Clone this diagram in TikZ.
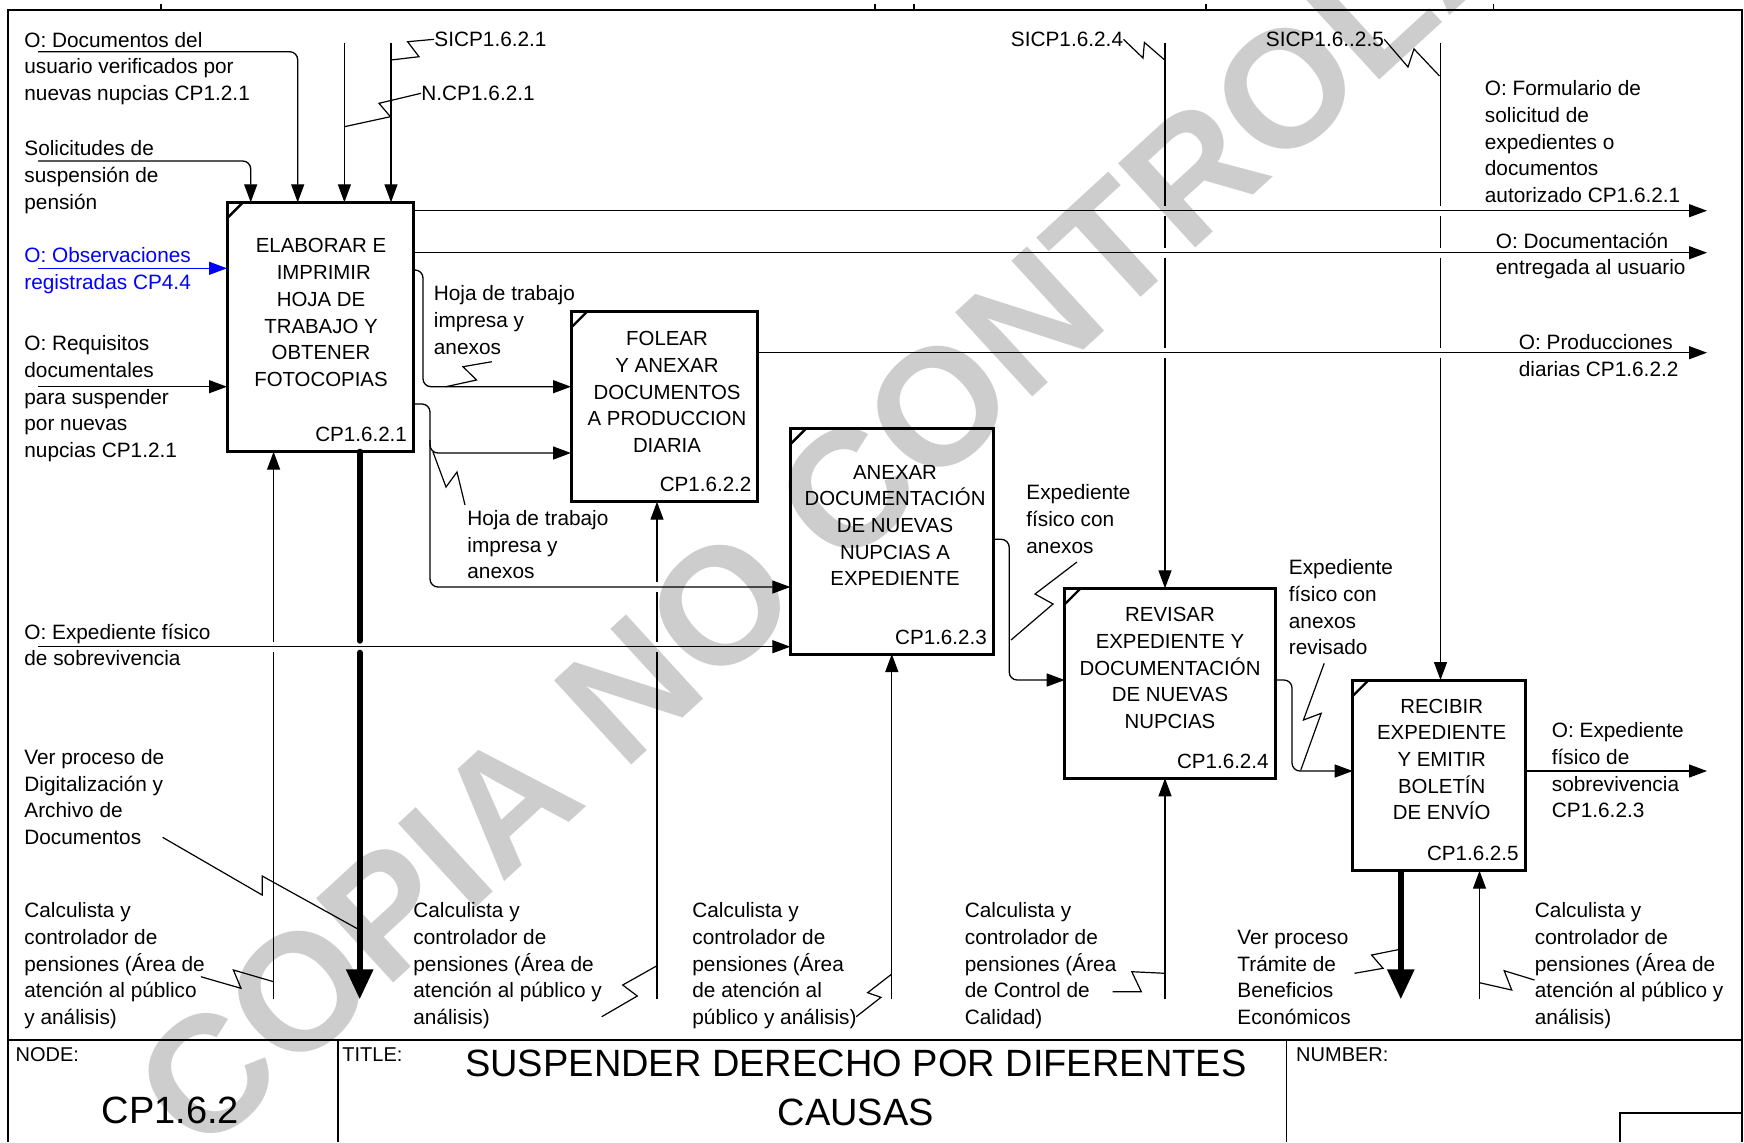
\documentclass[tikz,border=0pt]{standalone}
\usepackage{fontspec}
\setmainfont{Liberation Sans}
\usetikzlibrary{arrows.meta,calc}
\newcommand\lstrut{\rule{0pt}{7.6pt}}
\definecolor{wm}{RGB}{205,205,205}
\definecolor{obsblue}{RGB}{0,0,255}
\begin{document}
\begin{tikzpicture}[x=0.5pt,y=-0.5pt,
  conn/.style={line width=0.65pt},
  tip/.style={-{Triangle[length=9pt,width=6.5pt]}},
  bigtip/.style={line width=3pt,-{Triangle[length=15pt,width=13pt]}},
  thickseg/.style={line width=3pt, line cap=round},
  zig/.style={line width=0.6pt},
  proc/.style={draw, line width=1.5pt, anchor=north west, inner sep=0pt, outer sep=0pt},
  lbl/.style={anchor=north west, inner sep=0pt, align=left, font=\fontsize{10.4}{13.3}\selectfont},
  slbl/.style={anchor=west, inner sep=0pt, font=\fontsize{10.4}{13.3}\selectfont},
  btxt/.style={anchor=north, inner sep=0pt, align=center, font=\fontsize{10.2}{13.35}\selectfont},
  code/.style={anchor=east, inner sep=0pt, font=\fontsize{10.3}{12}\selectfont},
  frame/.style={line width=0.9pt},
]
\useasboundingbox (0,0) rectangle (1744,1142);
\fill[white] (0,0) rectangle (1744,1142);

% watermark
\node[rotate=42.5, text=wm, font=\fontsize{83}{83}\selectfont\bfseries, inner sep=0pt] (wmark) at (918,425) {COPIA NO CONTROLADA};

% frame
\draw[frame] (7.7,1142) -- (7.7,10) -- (1741.7,10) -- (1741.7,1142);
\foreach \t in {161,875,913.6,1206,1493.5} \draw[frame] (\t,4) -- (\t,10);
\draw[frame] (7.7,1040) -- (1741.7,1040);
\draw[frame] (338,1040) -- (338,1142);
\draw[frame] (1286.4,1040) -- (1286.4,1142);
\draw[frame] (1619.7,1142) -- (1619.7,1113.3) -- (1741.7,1113.3);

% title block text
\node[anchor=west, inner sep=0pt, font=\fontsize{10}{12}\selectfont] (tNode) at (15.3,1055) {NODE:};
\node[anchor=west, inner sep=0pt, font=\fontsize{10}{12}\selectfont] (tTitle) at (342,1055) {TITLE:};
\node[anchor=west, inner sep=0pt, font=\fontsize{10}{12}\selectfont] (tNum) at (1295.8,1055) {NUMBER:};
\node[anchor=center, inner sep=0pt, font=\fontsize{19}{22}\selectfont] (tNodeId) at (170.3,1110) {CP1.6.2};
\node[anchor=north, inner sep=0pt, align=center, font=\fontsize{19}{24.5}\selectfont] (tTitleTxt) at (855.8,1049.3) {SUSPENDER DERECHO POR DIFERENTES\\CAUSAS};

% boxes
\node[proc, minimum width=93.15pt, minimum height=124.7pt] (b1) at (227,202.3) {};
\node[proc, minimum width=93.4pt, minimum height=95pt] (b2) at (571,311.7) {};
\node[proc, minimum width=101.45pt, minimum height=112.85pt] (b3) at (790.3,428.3) {};
\node[proc, minimum width=105.15pt, minimum height=95pt] (b4) at (1064.7,588.3) {};
\node[proc, minimum width=86.15pt, minimum height=95.35pt] (b5) at (1352.7,680) {};
\foreach \b in {b1,b2,b3,b4,b5}
  \draw[line width=1.2pt] ([yshift=-8pt]\b.north west) -- ([xshift=8pt]\b.north west);

\node[btxt] (b1t) at (321,237.3) {\lstrut ELABORAR E\\\ IMPRIMIR\\HOJA DE\\TRABAJO Y\\OBTENER\\FOTOCOPIAS};
\node[btxt] (b2t) at (667,330) {\lstrut FOLEAR\\Y ANEXAR\\DOCUMENTOS\\A PRODUCCION\\DIARIA};
\node[btxt] (b3t) at (895,463.5) {\lstrut ANEXAR\\DOCUMENTACIÓN\\DE NUEVAS\\NUPCIAS A\\EXPEDIENTE};
\node[btxt] (b4t) at (1170,606) {\lstrut REVISAR\\EXPEDIENTE Y\\DOCUMENTACIÓN\\DE NUEVAS\\NUPCIAS};
\node[btxt] (b5t) at (1441.7,697.5) {\lstrut RECIBIR\\EXPEDIENTE\\Y EMITIR\\BOLETÍN\\DE ENVÍO};
\node[code] (b1c) at ([xshift=-3pt,yshift=8.5pt]b1.south east) {CP1.6.2.1};
\node[code] (b2c) at ([xshift=-3pt,yshift=8.5pt]b2.south east) {CP1.6.2.2};
\node[code] (b3c) at ([xshift=-3pt,yshift=8.5pt]b3.south east) {CP1.6.2.3};
\node[code] (b4c) at ([xshift=-3pt,yshift=8.5pt]b4.south east) {CP1.6.2.4};
\node[code] (b5c) at ([xshift=-3pt,yshift=8.5pt]b5.south east) {CP1.6.2.5};

% coordinates
\coordinate (iDoc) at (38,51.7);
\coordinate (iSol) at (38,161);
\coordinate (iObs) at (38,268.3);
\coordinate (iReq) at (38,386.7);
\coordinate (iExp) at (38,646.7);
\coordinate (c11) at (344.4,42.7);
\coordinate (c12) at (391,42.7);
\coordinate (c4) at (1165,42.7);
\coordinate (c5) at (1440.5,42.7);
\coordinate (o1) at (1707,210.7);
\coordinate (o2) at (1707,252.7);
\coordinate (o3) at (1707,352.7);
\coordinate (o5) at (1707,771);
\coordinate (j1) at (423,270);
\coordinate (h387) at (423,386.7);
\coordinate (j2) at (430,404);
\coordinate (j2b) at (430,440);
\coordinate (h453) at (430,453);
\coordinate (h587) at (430,587);
\coordinate (j3) at (1009.2,539.3);
\coordinate (h680) at (1009.2,680);
\coordinate (j4) at (1292,680);
\coordinate (h771) at (1292,771);
\coordinate (m1) at (273.6,999.3);
\coordinate (t1) at (359.7,999.3);
\coordinate (m2) at (657,999.3);
\coordinate (m3) at (891.8,999.3);
\coordinate (m4) at (1165,999.3);
\coordinate (t2) at (1400.8,999.3);
\coordinate (m5) at (1479.5,999.3);

% inputs / controls of box 1
\draw[conn,tip,rounded corners=4pt] (iDoc) -| ([xshift=35.35pt]b1.north west);
\draw[conn,tip,rounded corners=4pt] (iSol) -| ([xshift=11.85pt]b1.north west);
\draw[conn,tip] (c11) -- (c11 |- b1.north);
\draw[conn,tip] (c12) -- (c12 |- b1.north);
\draw[conn,tip,obsblue] (iObs) -- (iObs -| b1.west);
\draw[conn,tip] (iReq) -- (iReq -| b1.west);

% outputs
\draw[conn,tip] (o1 -| b1.east) -- (o1);
\draw[conn,tip] (o2 -| b1.east) -- (o2);
\draw[conn,tip] (o3 -| b2.east) -- (o3);
\draw[conn,tip] (o5 -| b5.east) -- (o5);
\draw[conn,tip,rounded corners=4pt] (j1 -| b1.east) -- (j1) |- (h387 -| b2.west);
\draw[conn,tip,rounded corners=4pt] (j2 -| b1.east) -- (j2) |- (h587 -| b3.west);
\draw[conn,tip,rounded corners=4pt] (j2b) |- (h453 -| b2.west);
\draw[conn,tip] (iExp) -- (iExp -| b3.west);
\draw[conn,tip,rounded corners=4pt] (j3 -| b3.east) -- (j3) |- (h680 -| b4.west);
\draw[conn,tip,rounded corners=4pt] (j4 -| b4.east) -- (j4) |- (h771 -| b5.west);

% controls with gaps
\draw[conn] (c4) -- ($(c4 |- o1)+(0,-5)$);
\draw[conn] ($(c4 |- o1)+(0,5)$) -- ($(c4 |- o2)+(0,-5)$);
\draw[conn] ($(c4 |- o2)+(0,5)$) -- ($(c4 |- o3)+(0,-5)$);
\draw[conn,tip] ($(c4 |- o3)+(0,5)$) -- (c4 |- b4.north);
\draw[conn] (c5) -- ($(c5 |- o1)+(0,-5)$);
\draw[conn] ($(c5 |- o1)+(0,5)$) -- ($(c5 |- o2)+(0,-5)$);
\draw[conn] ($(c5 |- o2)+(0,5)$) -- ($(c5 |- o3)+(0,-5)$);
\draw[conn,tip] ($(c5 |- o3)+(0,5)$) -- (c5 |- b5.north);

% mechanisms and calls
\draw[conn] (m1) -- ($(m1 |- iExp)+(0,5)$);
\draw[conn,tip] ($(m1 |- iExp)+(0,-5)$) -- (m1 |- b1.south);
\draw[thickseg] (t1 |- b1.south) -- ($(t1 |- iExp)+(0,-6)$);
\draw[thickseg,bigtip] ($(t1 |- iExp)+(0,6)$) -- (t1);
\draw[conn] (m2) -- ($(m2 |- iExp)+(0,5)$);
\draw[conn] ($(m2 |- iExp)+(0,-5)$) -- ($(m2 |- h587)+(0,5)$);
\draw[conn,tip] ($(m2 |- h587)+(0,-5)$) -- (m2 |- b2.south);
\draw[conn,tip] (m3) -- (m3 |- b3.south);
\draw[conn,tip] (m4) -- (m4 |- b4.south);
\draw[conn,tip] (m5) -- (m5 |- b5.south);
\draw[bigtip] (t2 |- b5.south) -- (t2);

% labels
\node[lbl] (lDoc) at (24,31.6) {\lstrut O: Documentos del\\usuario verificados por\\nuevas nupcias CP1.2.1};
\node[lbl] (lSol) at (24,140.3) {\lstrut Solicitudes de\\suspensión de\\pensión};
\node[lbl, text=obsblue] (lObs) at (24,247.3) {\lstrut O: Observaciones\\registradas CP4.4};
\node[lbl] (lReq) at (24,335.3) {\lstrut O: Requisitos\\documentales\\para suspender\\por nuevas\\nupcias CP1.2.1};
\node[lbl] (lExp) at (24,623.3) {\lstrut O: Expediente físico\\de sobrevivencia};
\node[lbl] (lDig) at (24,748.8) {\lstrut Ver proceso de\\Digitalización y\\Archivo de\\Documentos};
\node[lbl] (lCal1) at (24,902.3) {\lstrut Calculista y\\controlador de\\pensiones (Área de\\atención al público\\y análisis)};
\node[lbl] (lCal2) at (413,902.3) {\lstrut Calculista y\\controlador de\\pensiones (Área de\\atención al público y\\análisis)};
\node[lbl] (lCal3) at (692,902.3) {\lstrut Calculista y\\controlador de\\pensiones (Área\\de atención al\\público y análisis)};
\node[lbl] (lCal4) at (964.5,902.3) {\lstrut Calculista y\\controlador de\\pensiones (Área\\de Control de\\Calidad)};
\node[lbl] (lTra) at (1237,929) {\lstrut Ver proceso\\Trámite de\\Beneficios\\Económicos};
\node[lbl] (lCal5) at (1534.5,902.3) {\lstrut Calculista y\\controlador de\\pensiones (Área de\\atención al público y\\análisis)};
\node[lbl] (lHoja1) at (433.5,285.3) {\lstrut Hoja de trabajo\\impresa y\\anexos};
\node[lbl] (lHoja2) at (467,509.8) {\lstrut Hoja de trabajo\\impresa y\\anexos};
\node[lbl] (lExa) at (1026,484.3) {\lstrut Expediente\\físico con\\anexos};
\node[lbl] (lExr) at (1288.5,559.3) {\lstrut Expediente\\físico con\\anexos\\revisado};
\node[lbl] (lOutE) at (1551.5,722.3) {\lstrut O: Expediente\\físico de\\sobrevivencia\\CP1.6.2.3};
\node[lbl] (lForm) at (1484.5,80.3) {\lstrut O: Formulario de\\solicitud de\\expedientes o\\documentos\\autorizado CP1.6.2.1};
\node[lbl] (lDocE) at (1495.5,232.3) {\lstrut O: Documentación\\entregada al usuario};
\node[lbl] (lProd) at (1518.5,333.8) {\lstrut O: Producciones\\diarias CP1.6.2.2};
\node[slbl] (lS1) at (434,39.3) {SICP1.6.2.1};
\node[slbl] (lN1) at (421,93.3) {N.CP1.6.2.1};
\node[slbl] (lS4) at (1010.5,39.3) {SICP1.6.2.4};
\node[slbl] (lS5) at (1265.5,39.3) {SICP1.6..2.5};

% squiggles
\draw[zig] (lS1.west) -- (407.6,41.7) -- (419,56.7) -- (c12 |- 0,60);
\draw[zig] (lN1.west) -- (379,103.3) -- (390.4,116.7) -- (344.4,126.7);
\draw[zig] (491.8,361.7) -- (463,366.7) -- (476.5,380) -- (445.9,386.7);
\draw[zig] (465,505) -- (457,472) -- (446,487) -- (433,452);
\draw[zig] (162.6,837.3) -- (262.2,895) -- (262.2,876) -- (359.7,930);
\draw[zig] (200.9,976.7) -- (241,988.3) -- (233.4,970) -- (273.6,981.7);
\draw[zig] (657,965.7) -- (622.7,985) -- (637.3,996) -- (601.7,1016.7);
\draw[zig] (891.8,974) -- (867.6,992.7) -- (881,997.3) -- (856.2,1016.7);
\draw[zig] (1112.6,991.7) -- (1141.3,991.7) -- (1131.8,971.7) -- (1165,973.3);
\draw[zig] (1354.5,973.3) -- (1383,968.3) -- (1371.6,955) -- (1400,949.3);
\draw[zig] (1479.5,982.7) -- (1511.7,990) -- (1504.2,970.7) -- (1534.5,980);
\draw[zig] (1077,562) -- (1035,594) -- (1053,604) -- (1011,640);
\draw[zig] (1324.2,663.3) -- (1303.4,720) -- (1321.2,713.3) -- (1300.8,770);
\draw[zig] (lS4.east) -- (1143,58) -- (1144.4,42.4) -- (1165,60.3);
\draw[zig] (lS5.east) -- (1408,67) -- (1414,49) -- (1439.4,75.9);
\end{tikzpicture}
\end{document}
